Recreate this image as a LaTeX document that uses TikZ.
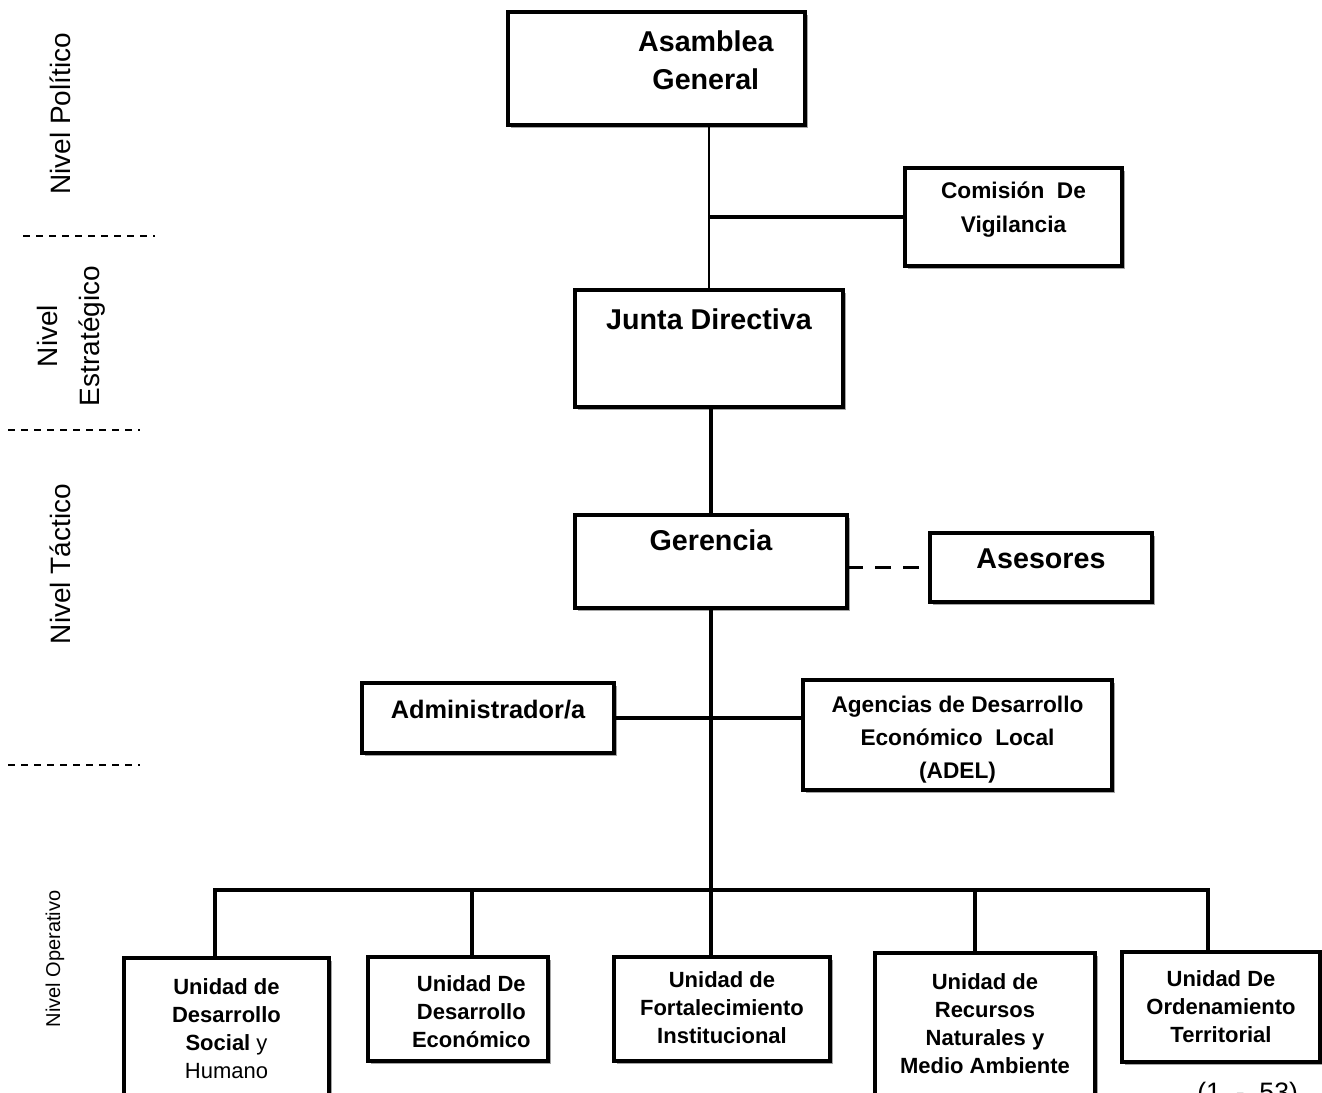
\documentclass[tikz,border=0pt]{standalone}
\usepackage{fontspec}
\setmainfont{Liberation Sans}
\usepackage{tikz}
\usetikzlibrary{positioning, shadows, calc}

\tikzset{
	orgbox/.style={draw, line width=2.5pt, fill=white, inner sep=0pt, outer sep=0pt, anchor=north west,
		drop shadow={shadow xshift=2.6pt, shadow yshift=-2.6pt, fill=black!70}},
	boxlbl/.style={anchor=north, inner sep=0pt, align=center},
	link/.style={line width=2.4pt},
	thinlink/.style={line width=1.1pt},
	dashlink/.style={line width=2.6pt, dash pattern=on 12pt off 9pt},
	levelsep/.style={line width=1.1pt, dash pattern=on 5.25pt off 4.5pt},
	levellbl/.style={rotate=90, align=center, inner sep=0pt},
}
\newcommand{\fBig}{\fontsize{21.5}{28.5}\selectfont\bfseries}
\newcommand{\fMid}{\fontsize{17}{25.5}\selectfont\bfseries}
\newcommand{\fAdm}{\fontsize{19}{24}\selectfont\bfseries}
\newcommand{\fAdel}{\fontsize{17}{24.75}\selectfont\bfseries}
\newcommand{\fUnit}{\fontsize{16.5}{21}\selectfont\bfseries}
\newcommand{\fLevel}{\fontsize{21}{31.5}\selectfont}
\newcommand{\fLevelSm}{\fontsize{15}{18}\selectfont}

\begin{document}
\begin{tikzpicture}[x=0.75pt,y=-0.75pt]
	\useasboundingbox (0,0) rectangle (1322,1093);
	
	%Shape: Rectangle [asamblea]
	\node[orgbox, minimum width=222.75pt, minimum height=84.75pt] (asamblea) at (508,12) {};
	%Shape: Rectangle [comision]
	\node[orgbox, minimum width=162.75pt, minimum height=73.5pt] (comision) at (905,168) {};
	%Shape: Rectangle [junta]
	\node[orgbox, minimum width=201pt, minimum height=87.75pt] (junta) at (575,290) {};
	%Shape: Rectangle [gerencia]
	\node[orgbox, minimum width=204pt, minimum height=69.75pt] (gerencia) at (575,515) {};
	%Shape: Rectangle [asesores]
	\node[orgbox, minimum width=166.5pt, minimum height=51.75pt] (asesores) at (930,533) {};
	%Shape: Rectangle [admin]
	\node[orgbox, minimum width=189pt, minimum height=52.5pt] (admin) at (362,683) {};
	%Shape: Rectangle [adel]
	\node[orgbox, minimum width=231.75pt, minimum height=82.5pt] (adel) at (803,680) {};
	%Shape: Rectangle [units]
	\node[orgbox, minimum width=153.75pt, minimum height=120pt] (uSocial) at (124,958) {};
	\node[orgbox, minimum width=135pt, minimum height=78pt] (uEcon) at (368,957) {};
	\node[orgbox, minimum width=162pt, minimum height=78pt] (uFort) at (614,957) {};
	\node[orgbox, minimum width=165pt, minimum height=120pt] (uRec) at (875,953) {};
	\node[orgbox, minimum width=148.5pt, minimum height=82.5pt] (uOrd) at (1122,952) {};
	
	% Text Node
	\node[boxlbl, font=\fBig] (asambleaLbl) at ([xshift=37pt, yshift=-13.5pt]asamblea.north) {Asamblea\\General};
	% Text Node
	\node[boxlbl, font=\fMid] (comisionLbl) at ([yshift=-10pt]comision.north) {Comisión~ De\\Vigilancia};
	% Text Node
	\node[boxlbl, font=\fBig] (juntaLbl) at ([yshift=-14pt]junta.north) {Junta Directiva};
	% Text Node
	\node[boxlbl, font=\fBig] (gerenciaLbl) at ([yshift=-11pt]gerencia.north) {Gerencia};
	% Text Node
	\node[boxlbl, font=\fBig] (asesoresLbl) at ([yshift=-12pt]asesores.north) {Asesores};
	% Text Node
	\node[boxlbl, font=\fAdm] (adminLbl) at ([yshift=-12.75pt]admin.north) {Administrador/a};
	% Text Node
	\node[boxlbl, font=\fAdel] (adelLbl) at ([yshift=-12pt]adel.north) {Agencias de Desarrollo\\Económico~ Local\\(ADEL)};
	% Text Node
	\node[boxlbl, font=\fUnit] (uSocialLbl) at ([yshift=-15pt]uSocial.north) {Unidad de\\Desarrollo\\Social {\mdseries y}\\{\mdseries Humano}};
	% Text Node
	\node[boxlbl, font=\fUnit] (uEconLbl) at ([xshift=10pt, yshift=-13.5pt]uEcon.north) {Unidad De\\Desarrollo\\Económico};
	% Text Node
	\node[boxlbl, font=\fUnit] (uFortLbl) at ([yshift=-11pt]uFort.north) {Unidad de\\Fortalecimiento\\Institucional};
	% Text Node
	\node[boxlbl, font=\fUnit] (uRecLbl) at ([yshift=-15pt]uRec.north) {Unidad de\\Recursos\\Naturales y\\Medio Ambiente};
	% Text Node
	\node[boxlbl, font=\fUnit] (uOrdLbl) at ([yshift=-14pt]uOrd.north) {Unidad De\\Ordenamiento\\Territorial};
	
	%Straight Lines
	\draw[thinlink] (junta.north |- asamblea.south) -- (junta.north);
	\draw[link] (comision.west -| junta.north) -- (comision.west);
	\draw[link] (gerencia.north |- junta.south) -- (gerencia.north);
	\draw[dashlink] (asesores.west -| gerencia.east) -- (asesores.west);
	\draw[link] (admin.east) -- (admin.east -| adel.west);
	
	%Straight Lines [bus]
	\coordinate (bus) at (712,890);
	\draw[link] (gerencia.south) -- (gerencia.south |- uFort.north);
	\draw[link] (uSocial.north -| 215,0) |- (bus) -| (uOrd.north -| 1208,0);
	\foreach \u/\dx in {uEcon/472, uRec/975}
		\draw[link] (\u.north -| \dx,0) -- (\dx,0 |- bus);
	
	%Level separators
	\draw[levelsep] (23,236) -- (155,236);
	\draw[levelsep] (8,430) -- (140,430);
	\draw[levelsep] (8,765) -- (140,765);
	
	% Text Node
	\node[levellbl, font=\fLevel] (nPolitico) at (60,114) {Nivel Político};
	% Text Node
	\node[levellbl, font=\fLevel] (nEstrategico) at (71,336) {Nivel\\Estratégico};
	% Text Node
	\node[levellbl, font=\fLevel] (nTactico) at (60,564) {Nivel Táctico};
	% Text Node
	\node[levellbl, font=\fLevelSm] (nOperativo) at (55,959) {Nivel Operativo};
	% Text Node
	\node[anchor=north west, inner sep=0pt, font=\fontsize{20}{24}\selectfont] (pageRef) at (1197,1082) {(1~ -~ 53)};
\end{tikzpicture}
\end{document}
